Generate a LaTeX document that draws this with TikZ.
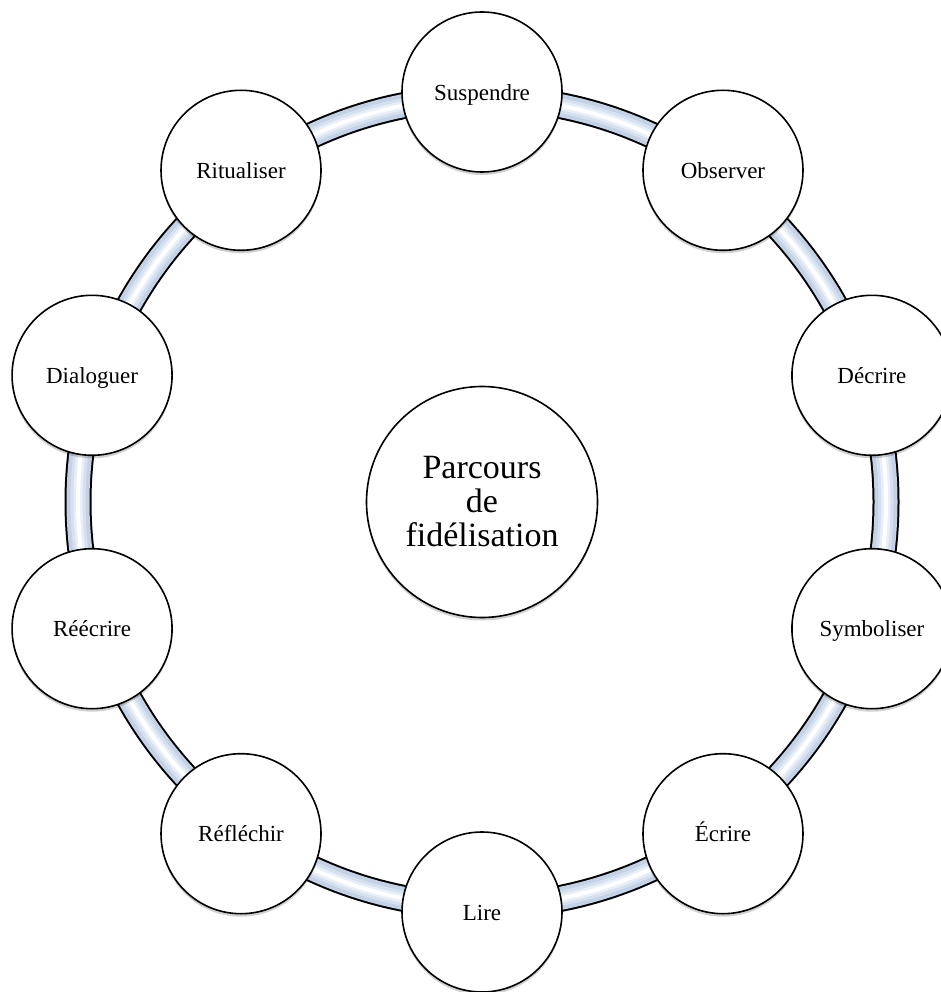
\documentclass[tikz,border=0pt]{standalone}
\usepackage{fontspec}
\setmainfont{Liberation Serif}
\usetikzlibrary{shadows,calc}
\definecolor{tubeblue}{RGB}{196,210,231}
\definecolor{tubemid}{RGB}{214,225,240}
\definecolor{tubelight}{RGB}{232,239,248}
\tikzset{
  stage/.style={circle, draw=black, line width=1.6pt, fill=white, minimum size=160pt, inner sep=0pt,
    text height=16.5pt, text depth=0pt,
    font=\fontsize{23}{27}\selectfont, drop shadow={shadow xshift=0pt, shadow yshift=-3pt, opacity=0.18, fill=black}},
  hub/.style={circle, draw=black, line width=1.6pt, fill=white, minimum size=231pt, inner sep=0pt, align=center,
    font=\fontsize{34}{34}\selectfont, drop shadow={shadow xshift=0pt, shadow yshift=-3pt, opacity=0.18, fill=black}},
  tubeout/.style={draw=black, line width=27pt},
  tubein/.style={draw=tubeblue, line width=23pt},
  tubemd/.style={draw=tubemid, line width=15pt},
  tubelt/.style={draw=tubelight, line width=9pt},
  tubehi/.style={draw=white, line width=4pt}
}
\begin{document}
\begin{tikzpicture}[x=1pt,y=-1pt]
\useasboundingbox (0,0) rectangle (941,992);
\coordinate (O) at (482,502);
% ring tube
\draw[tubeout] (O) circle[radius=404pt];
\draw[tubein] (O) circle[radius=404pt];
\draw[tubemd] (O) circle[radius=404pt];
\draw[tubelt] (O) circle[radius=404pt];
\draw[tubehi] (O) circle[radius=404pt];
% stages
\node[stage] (suspendre)  at ($(O)+(90:410pt)$)  {Suspendre};
\node[stage] (observer)   at ($(O)+(54:410pt)$)  {Observer};
\node[stage] (decrire)    at ($(O)+(18:410pt)$)  {Décrire};
\node[stage] (symboliser) at ($(O)+(-18:410pt)$) {Symboliser};
\node[stage] (ecrire)     at ($(O)+(-54:410pt)$) {Écrire};
\node[stage] (lire)       at ($(O)+(-90:410pt)$) {Lire};
\node[stage] (reflechir)  at ($(O)+(-126:410pt)$) {Réfléchir};
\node[stage] (reecrire)   at ($(O)+(-162:410pt)$) {Réécrire};
\node[stage] (dialoguer)  at ($(O)+(162:410pt)$) {Dialoguer};
\node[stage] (ritualiser) at ($(O)+(126:410pt)$) {Ritualiser};
% hub
\node[hub] (parcours) at (O) {Parcours\\de\\fidélisation};
\end{tikzpicture}
\end{document}
